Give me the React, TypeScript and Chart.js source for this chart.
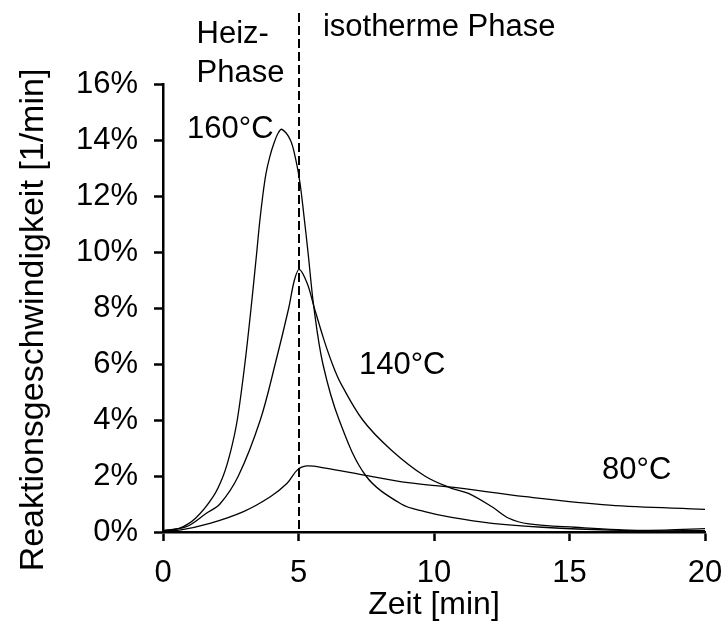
import React, { useEffect, useRef } from "react";
import { Chart, registerables } from "chart.js";

Chart.register(...registerables);

// ---- Data (time in minutes, reaction rate in %/min) ----
const t160 = [0, 0.6, 1.2, 1.85, 2.22, 2.5, 2.74, 3.02, 3.25, 3.45, 3.56, 3.68, 3.8, 3.94, 4.1, 4.25, 4.39, 4.7, 4.9, 5.05, 5.2, 5.35, 5.57, 5.9, 6.5, 7.49, 8.79, 9.66, 10.65, 12.14, 14, 16.5, 18.5, 20];
const r160 = [0.05, 0.13, 0.49, 1.26, 2, 2.9, 4, 6, 8, 9.9, 11, 12, 12.8, 13.4, 13.9, 14.25, 14.38, 14, 13.3, 12.5, 11.3, 10, 8, 6, 4, 2, 1, 0.73, 0.52, 0.31, 0.17, 0.07, 0.07, 0.12];

const t140 = [0, 0.86, 1.6, 2.1, 2.78, 3.59, 4.14, 4.64, 4.85, 5.03, 5.32, 5.57, 5.94, 6.25, 6.56, 7.37, 8.42, 9.66, 10.65, 11.27, 12.14, 12.76, 13.5, 15.2, 17.7, 20];
const r140 = [0.05, 0.19, 0.67, 1, 2, 4, 6, 8, 9.0, 9.38, 8.88, 8.05, 6.86, 6, 5.31, 4, 2.93, 2, 1.56, 1.38, 0.9, 0.49, 0.29, 0.17, 0.05, 0.05];

const t80 = [0, 0.61, 1.73, 2.97, 3.96, 4.58, 4.95, 5.3, 6.0, 7.37, 9.04, 10.65, 13.37, 16.47, 20];
const r80 = [0.05, 0.07, 0.31, 0.73, 1.26, 1.74, 2.21, 2.36, 2.28, 2.04, 1.76, 1.6, 1.26, 0.96, 0.81];

const xTicks = [0, 5, 10, 15, 20];
const yTicks = [0, 2, 4, 6, 8, 10, 12, 14, 16];
const phaseBoundary = 5; // minutes

const xTitle = "Zeit [min]";
const yTitle = "Reaktionsgeschwindigkeit [1/min]";

// labels placed in data coordinates
const labelTexts = ["Heiz-", "Phase", "isotherme Phase", "160°C", "140°C", "80°C"];
const labelX = [1.24, 1.24, 5.9, 0.89, 7.23, 16.2];
const labelY = [17.46, 16.07, 17.71, 14.07, 5.64, 1.89];

const FONT = "'Liberation Sans', Arial, Helvetica, sans-serif";

const toPoints = (t: number[], r: number[]) => t.map((x, i) => ({ x, y: r[i] }));

const annotationPlugin = {
  id: "annotations",
  afterDraw(chart: any) {
    const { ctx, scales } = chart;
    const xs = scales.x;
    const ys = scales.y;
    ctx.save();
    // dashed divider
    const px = Math.round(xs.getPixelForValue(phaseBoundary));
    ctx.strokeStyle = "#000";
    ctx.lineWidth = 2;
    ctx.setLineDash([9, 4]);
    ctx.beginPath();
    ctx.moveTo(px, 13);
    ctx.lineTo(px, ys.getPixelForValue(0));
    ctx.stroke();
    ctx.setLineDash([]);

    // text labels
    ctx.fillStyle = "#000";
    ctx.font = `31px ${FONT}`;
    ctx.textAlign = "left";
    ctx.textBaseline = "alphabetic";
    labelTexts.forEach((txt, i) => {
      ctx.fillText(txt, xs.getPixelForValue(labelX[i]), ys.getPixelForValue(labelY[i]));
    });

    // y-axis title
    ctx.font = `34px ${FONT}`;
    ctx.translate(34, 320);
    ctx.rotate(-Math.PI / 2);
    ctx.textAlign = "center";
    ctx.textBaseline = "middle";
    ctx.fillText(yTitle, 0, 0);
    ctx.restore();
  },
};

export default function App() {
  const ref = useRef<HTMLCanvasElement>(null);

  useEffect(() => {
    if (!ref.current) return;
    const line = (t: number[], r: number[], label: string) => ({
      label,
      data: toPoints(t, r),
      borderColor: "#000",
      borderWidth: 1.3,
      pointRadius: 0,
      fill: false,
      tension: 0.35,
    });
    const chart = new Chart(ref.current, {
      type: "line",
      data: {
        datasets: [line(t160, r160, "160°C"), line(t140, r140, "140°C"), line(t80, r80, "80°C")],
      },
      options: {
        animation: false,
        responsive: false,
        layout: { padding: { left: 0, top: 84, right: 0, bottom: 0 } },
        plugins: { legend: { display: false }, tooltip: { enabled: false } },
        scales: {
          x: {
            type: "linear",
            min: 0,
            max: 20,
            afterBuildTicks: (s: any) => {
              s.ticks = xTicks.map((v) => ({ value: v }));
            },
            afterFit: (s: any) => {
              s.height = 92;
              s.paddingRight = 17;
              s.paddingLeft = 0;
            },
            ticks: {
              color: "#000",
              font: { family: FONT, size: 31 },
              padding: 14,
              maxRotation: 0,
            },
            grid: {
              display: true,
              drawOnChartArea: false,
              drawTicks: true,
              tickLength: 9,
              tickWidth: 2.5,
              tickColor: "#000",
            },
            border: { display: true, color: "#000", width: 2.5 },
            title: {
              display: true,
              text: xTitle,
              color: "#000",
              font: { family: FONT, size: 32 },
              padding: { top: 0, bottom: 0 },
            },
          },
          y: {
            type: "linear",
            min: 0,
            max: 16,
            afterBuildTicks: (s: any) => {
              s.ticks = yTicks.map((v) => ({ value: v }));
            },
            afterFit: (s: any) => {
              s.width = 163;
            },
            ticks: {
              color: "#000",
              font: { family: FONT, size: 31 },
              padding: 16,
              callback: (v: any) => `${v}%`,
            },
            grid: {
              display: true,
              drawOnChartArea: false,
              drawTicks: true,
              tickLength: 9,
              tickWidth: 2.5,
              tickColor: "#000",
            },
            border: { display: true, color: "#000", width: 2.5 },
          },
        },
      },
      plugins: [annotationPlugin],
    });
    return () => chart.destroy();
  }, []);

  return (
    <div style={{ position: "fixed", left: 0, top: 0, width: 722, height: 624, background: "#fff" }}>
      <canvas ref={ref} width={722} height={624} />
    </div>
  );
}
